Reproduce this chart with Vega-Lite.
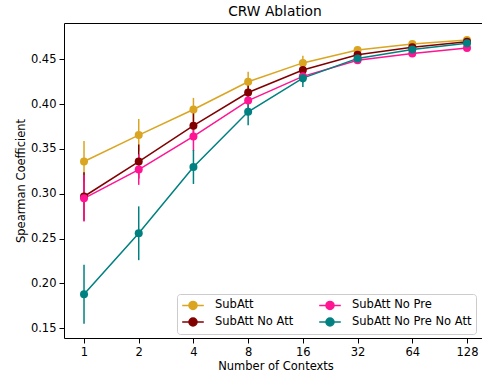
{
  "$schema": "https://vega.github.io/schema/vega-lite/v6.json",
  "width": 418,
  "height": 315,
  "autosize": {"type": "none"},
  "padding": {"left": 64, "top": 23, "right": 0, "bottom": 39},
  "background": "white",
  "title": {"text": "CRW Ablation", "fontSize": 13.8, "fontWeight": "normal", "color": "black", "offset": 4, "dx": 2},
  "data": {"values": [
    {"series": "SubAtt", "n": 1, "mean": 0.336, "lo": 0.313, "hi": 0.359},
    {"series": "SubAtt", "n": 2, "mean": 0.3655, "lo": 0.3475, "hi": 0.3835},
    {"series": "SubAtt", "n": 4, "mean": 0.394, "lo": 0.381, "hi": 0.407},
    {"series": "SubAtt", "n": 8, "mean": 0.425, "lo": 0.414, "hi": 0.436},
    {"series": "SubAtt", "n": 16, "mean": 0.446, "lo": 0.438, "hi": 0.454},
    {"series": "SubAtt", "n": 32, "mean": 0.4605, "lo": 0.4565, "hi": 0.4645},
    {"series": "SubAtt", "n": 64, "mean": 0.467, "lo": 0.464, "hi": 0.470},
    {"series": "SubAtt", "n": 128, "mean": 0.4715, "lo": 0.4685, "hi": 0.4745},
    {"series": "SubAtt No Att", "n": 1, "mean": 0.297, "lo": 0.270, "hi": 0.324},
    {"series": "SubAtt No Att", "n": 2, "mean": 0.336, "lo": 0.317, "hi": 0.355},
    {"series": "SubAtt No Att", "n": 4, "mean": 0.376, "lo": 0.361, "hi": 0.391},
    {"series": "SubAtt No Att", "n": 8, "mean": 0.413, "lo": 0.403, "hi": 0.423},
    {"series": "SubAtt No Att", "n": 16, "mean": 0.438, "lo": 0.431, "hi": 0.445},
    {"series": "SubAtt No Att", "n": 32, "mean": 0.455, "lo": 0.451, "hi": 0.459},
    {"series": "SubAtt No Att", "n": 64, "mean": 0.4635, "lo": 0.4605, "hi": 0.4665},
    {"series": "SubAtt No Att", "n": 128, "mean": 0.4695, "lo": 0.4665, "hi": 0.4725},
    {"series": "SubAtt No Pre", "n": 1, "mean": 0.295, "lo": 0.269, "hi": 0.321},
    {"series": "SubAtt No Pre", "n": 2, "mean": 0.327, "lo": 0.310, "hi": 0.344},
    {"series": "SubAtt No Pre", "n": 4, "mean": 0.364, "lo": 0.348, "hi": 0.380},
    {"series": "SubAtt No Pre", "n": 8, "mean": 0.404, "lo": 0.394, "hi": 0.414},
    {"series": "SubAtt No Pre", "n": 16, "mean": 0.431, "lo": 0.424, "hi": 0.438},
    {"series": "SubAtt No Pre", "n": 32, "mean": 0.449, "lo": 0.445, "hi": 0.453},
    {"series": "SubAtt No Pre", "n": 64, "mean": 0.4565, "lo": 0.4535, "hi": 0.4595},
    {"series": "SubAtt No Pre", "n": 128, "mean": 0.4625, "lo": 0.4595, "hi": 0.4655},
    {"series": "SubAtt No Pre No Att", "n": 1, "mean": 0.188, "lo": 0.155, "hi": 0.221},
    {"series": "SubAtt No Pre No Att", "n": 2, "mean": 0.256, "lo": 0.226, "hi": 0.286},
    {"series": "SubAtt No Pre No Att", "n": 4, "mean": 0.330, "lo": 0.311, "hi": 0.349},
    {"series": "SubAtt No Pre No Att", "n": 8, "mean": 0.3915, "lo": 0.3765, "hi": 0.4065},
    {"series": "SubAtt No Pre No Att", "n": 16, "mean": 0.429, "lo": 0.419, "hi": 0.439},
    {"series": "SubAtt No Pre No Att", "n": 32, "mean": 0.451, "lo": 0.446, "hi": 0.456},
    {"series": "SubAtt No Pre No Att", "n": 64, "mean": 0.461, "lo": 0.457, "hi": 0.465},
    {"series": "SubAtt No Pre No Att", "n": 128, "mean": 0.468, "lo": 0.465, "hi": 0.471}
  ]},
  "layer": [
    {
      "mark": {"type": "rule", "strokeWidth": 1.5},
      "encoding": {
        "x": {"field": "n", "type": "quantitative",
              "scale": {"type": "log", "base": 2, "domain": [0.776, 154.8], "nice": false},
              "axis": {"orient": "bottom", "values": [1, 2, 4, 8, 16, 32, 64, 128], "format": "d", "title": "Number of Contexts", "grid": false, "domain": true, "labelFlush": false, "labelOverlap": false, "titleX": 211.5, "titlePadding": 3}},
        "y": {"field": "lo", "type": "quantitative",
              "scale": {"domain": [0.1392, 0.4905], "nice": false, "zero": false},
              "axis": {"values": [0.15, 0.2, 0.25, 0.3, 0.35, 0.4, 0.45], "format": ".2f", "title": "Spearman Coefficient", "grid": false, "domain": true, "titlePadding": 4}},
        "y2": {"field": "hi"},
        "color": {"field": "series", "type": "nominal",
                  "scale": {"domain": ["SubAtt", "SubAtt No Att", "SubAtt No Pre", "SubAtt No Pre No Att"],
                            "range": ["#DAA520", "#800000", "#FF1493", "#008080"]},
                  "legend": {"title": null, "orient": "none", "legendX": 113, "legendY": 271, "columns": 2,
                             "symbolType": "M-1.8,0H1.8M-0.67,0A0.67,0.67 0 1,0 0.67,0A0.67,0.67 0 1,0 -0.67,0",
                             "symbolSize": 144, "symbolStrokeWidth": 1.5, "symbolOffset": 5,
                             "labelOffset": 15, "labelFontSize": 11.5, "labelColor": "black",
                             "padding": 4, "rowPadding": 1, "columnPadding": 22,
                             "strokeColor": "#cccccc", "fillColor": "white", "cornerRadius": 3,
                             "encode": {"symbols": {"update": {"fill": {"scale": "color", "field": "value"}, "stroke": {"scale": "color", "field": "value"}, "opacity": {"value": 1}}}}}}
      }
    },
    {
      "mark": {"type": "line", "strokeWidth": 1.5},
      "encoding": {
        "x": {"field": "n", "type": "quantitative",
              "axis": {"orient": "top", "labels": false, "ticks": false, "domain": true, "title": null, "grid": false}},
        "y": {"field": "mean", "type": "quantitative"},
        "color": {"field": "series", "type": "nominal"}
      }
    },
    {
      "mark": {"type": "point", "filled": true, "size": 64, "opacity": 1},
      "encoding": {
        "x": {"field": "n", "type": "quantitative", "axis": null},
        "y": {"field": "mean", "type": "quantitative"},
        "color": {"field": "series", "type": "nominal"}
      }
    }
  ],
  "resolve": {"axis": {"x": "independent"}},
  "config": {
    "font": "DejaVu Sans",
    "view": {"stroke": null},
    "axis": {"labelFontSize": 11.5, "titleFontSize": 11.5, "labelColor": "black", "titleColor": "black",
             "titleFontWeight": "normal", "tickColor": "black", "tickSize": 5, "tickWidth": 1,
             "domainColor": "black", "domainWidth": 1, "labelPadding": 3}
  }
}
